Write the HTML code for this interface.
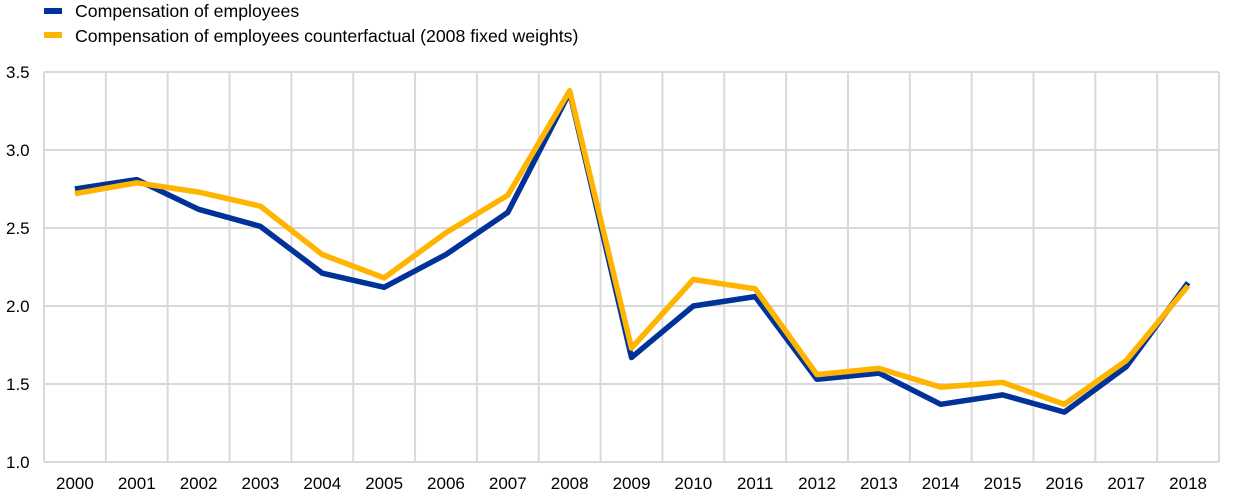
<!DOCTYPE html>
<html><head><meta charset="utf-8"><style>body{margin:0;background:#fff}svg{display:block;font-family:"Liberation Sans",Arial,sans-serif}</style></head>
<body>
<svg width="1240" height="501" xmlns="http://www.w3.org/2000/svg">
<g stroke="#d9d9d9" stroke-width="2" fill="none" id="grid"></g>
<g id="lab" font-size="17" fill="#000"></g>
<line x1="44" y1="11" x2="62" y2="11" stroke="#003299" stroke-width="6"/>
<text x="75" y="17" font-size="17.7">Compensation of employees</text>
<line x1="44" y1="35" x2="62" y2="35" stroke="#ffb400" stroke-width="6"/>
<text x="75" y="42" font-size="17.7">Compensation of employees counterfactual (2008 fixed weights)</text>
<polyline id="b" fill="none" stroke="#003299" stroke-width="5.5" stroke-linejoin="round"/>
<polyline id="y" fill="none" stroke="#ffb400" stroke-width="5.5" stroke-linejoin="round"/>
<script>
var ns="http://www.w3.org/2000/svg",g=document.getElementById('grid'),l=document.getElementById('lab');
function el(p,t,a,txt){var e=document.createElementNS(ns,t);for(var k in a)e.setAttribute(k,a[k]);if(txt)e.textContent=txt;p.appendChild(e);}
var L=44,R=1219,w=(R-L)/19;
for(var i=0;i<=5;i++){var y=72+i*78;el(g,'line',{x1:L,x2:R,y1:y,y2:y});el(l,'text',{x:6,y:y+6},(3.5-i*0.5).toFixed(1));}
for(var i=0;i<=19;i++){var x=L+i*w;el(g,'line',{x1:x,x2:x,y1:72,y2:462});if(i<19)el(l,'text',{x:x+w/2,y:489,'text-anchor':'middle'},String(2000+i));}
function pts(d){return d.map(function(v,i){return (L+w/2+i*w).toFixed(1)+','+(72+(3.5-v)*156).toFixed(1)}).join(' ');}
document.getElementById('b').setAttribute('points',pts([2.75,2.81,2.62,2.51,2.21,2.12,2.33,2.6,3.37,1.67,2.0,2.06,1.53,1.57,1.37,1.43,1.32,1.61,2.15]));
document.getElementById('y').setAttribute('points',pts([2.72,2.79,2.73,2.64,2.33,2.18,2.47,2.71,3.38,1.73,2.17,2.11,1.56,1.6,1.48,1.51,1.37,1.65,2.13]));
</script>
</svg>
</body></html>
